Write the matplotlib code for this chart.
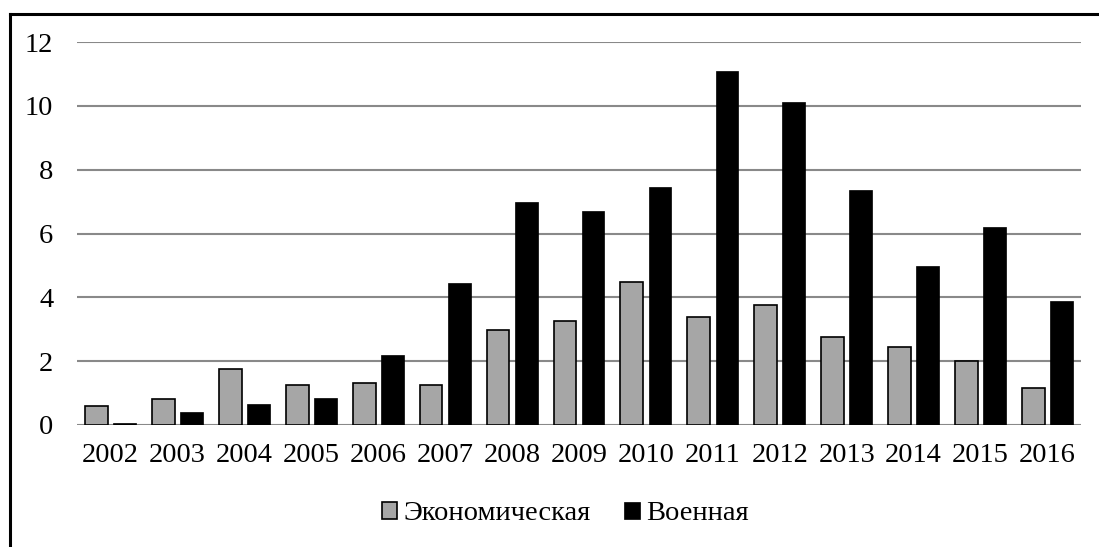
import matplotlib.pyplot as plt
import numpy as np
from matplotlib.lines import Line2D

years = ['2002', '2003', '2004', '2005', '2006', '2007', '2008', '2009',
         '2010', '2011', '2012', '2013', '2014', '2015', '2016']
economic = [0.6, 0.82, 1.76, 1.24, 1.32, 1.25, 2.97, 3.26, 4.49, 3.39,
            3.77, 2.76, 2.44, 2.0, 1.16]
military = [0.05, 0.42, 0.66, 0.86, 2.2, 4.44, 6.98, 6.69, 7.47, 11.08,
            10.13, 7.37, 4.98, 6.2, 3.87]
labels = ['Экономическая', 'Военная']

plt.rcParams['font.family'] = ['Liberation Serif', 'DejaVu Serif']

fig = plt.figure(figsize=(10.99, 5.47), dpi=100)
W, H = 1099, 547
ax = fig.add_axes([77 / W, 1 - 425 / H, (1081 - 77) / W, (425 - 42) / H])

x = np.arange(len(years))
w = 0.34
ax.bar(x - 0.21, economic, w, color='#a6a6a6', edgecolor='black',
       linewidth=1.2, label=labels[0], zorder=3)
ax.bar(x + 0.21, military, w, color='black', edgecolor='black',
       linewidth=0.5, label=labels[1], zorder=3)

ax.set_xlim(-0.5, len(years) - 0.5)
ax.set_ylim(0, 12)
ax.set_yticks(range(0, 13, 2))
ax.set_xticks(x)
ax.set_xticklabels(years)
ax.tick_params(length=0, labelsize=20.5, colors='black')
ax.tick_params(axis='y', pad=17)
ax.tick_params(axis='x', pad=13)
ax.grid(axis='y', color='#898989', linewidth=1.5, zorder=0)
for s in ax.spines.values():
    s.set_visible(False)

# frame (only left and top edges visible in the cropped picture)
fig.add_artist(Line2D([9.5 / W, 9.5 / W], [0, 1 - 13.5 / H],
                      color='black', linewidth=2.2))
fig.add_artist(Line2D([9.5 / W, 1], [1 - 13.5 / H, 1 - 13.5 / H],
                      color='black', linewidth=2.2))

fig.legend(loc='center', bbox_to_anchor=(565 / W, 1 - 514 / H), ncol=2,
           frameon=False, fontsize=20.5, handlelength=0.55, handleheight=0.55,
           handletextpad=0.2, columnspacing=1.2)

fig.savefig('out.png', dpi=100)
